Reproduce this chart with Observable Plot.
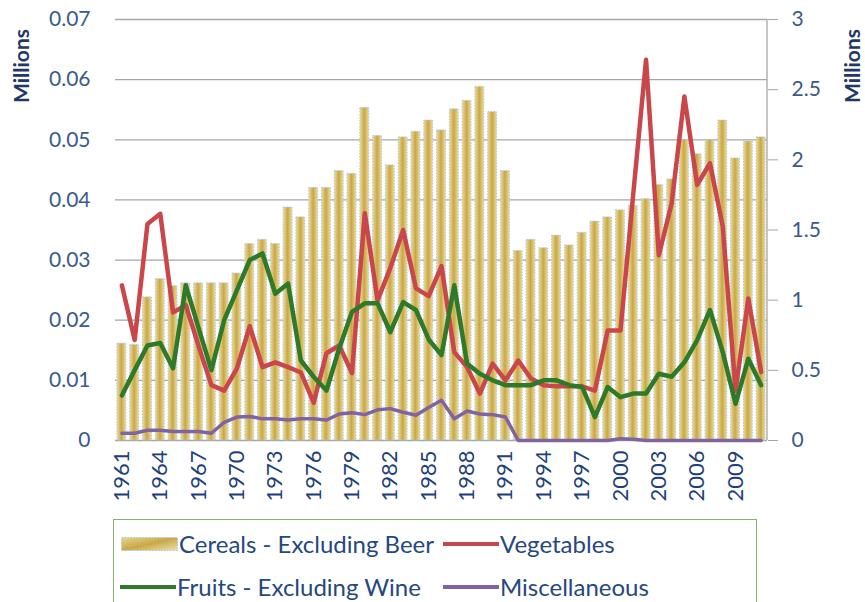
<!DOCTYPE html>
<html>
<head>
<meta charset="utf-8">
<script src="https://cdn.jsdelivr.net/npm/d3@7"></script>
<script src="https://cdn.jsdelivr.net/npm/@observablehq/plot@0.6"></script>
<style>
  html, body { margin: 0; padding: 0; background: #fff; overflow: hidden; }
  #page { position: relative; width: 865px; height: 602px; overflow: hidden; font-family: Lato, sans-serif; }
  #chart { position: absolute; left: 0; top: 0; }
  .unit { position: absolute; font-weight: bold; font-size: 21px; color: #1f3864; transform: translate(-50%, -50%) rotate(-90deg); white-space: nowrap; }
  #legend { position: absolute; left: 113px; top: 519px; width: 644px; height: 100px; border: 1.5px solid #8cb06a; box-sizing: border-box; }
  .lg-text { position: absolute; font-size: 24px; color: #26487e; transform: translateY(-50%); white-space: nowrap; line-height: 1; }
  .lg-sw { position: absolute; }
  .xax text { font-size: 22px; }
</style>
</head>
<body>
<div id="page">
  <div id="chart"></div>
  <div class="unit" style="left:20px; top:66px;">Millions</div>
  <div class="unit" style="left:851px; top:66px;">Millions</div>
  <div id="legend"></div>
</div>
<script>
const years = [1961,1962,1963,1964,1965,1966,1967,1968,1969,1970,
  1971,1972,1973,1974,1975,1976,1977,1978,1979,1980,
  1981,1982,1983,1984,1985,1986,1987,1988,1989,1990,
  1991,1992,1993,1994,1995,1996,1997,1998,1999,2000,
  2001,2002,2003,2004,2005,2006,2007,2008,2009,2010,2011];

// Cereals - Excluding Beer (right axis, millions)
const cereals = [0.69,0.68,1.02,1.15,1.10,1.12,1.12,1.12,1.12,1.19,
  1.40,1.43,1.40,1.66,1.59,1.80,1.80,1.92,1.90,2.37,
  2.17,1.96,2.16,2.20,2.28,2.21,2.36,2.42,2.52,2.34,
  1.92,1.35,1.43,1.37,1.46,1.39,1.48,1.56,1.59,1.64,
  1.67,1.72,1.82,1.86,2.14,2.04,2.14,2.28,2.01,2.13,2.16];

// Vegetables (left axis, millions)
const vegetables = [0.0258,0.0167,0.0360,0.0377,0.0213,0.0225,0.0157,0.0092,0.0083,0.0120,
  0.0190,0.0122,0.0130,0.0122,0.0113,0.0063,0.0145,0.0158,0.0112,0.0378,
  0.0233,0.0287,0.0350,0.0253,0.0240,0.0290,0.0147,0.0122,0.0078,0.0128,
  0.0100,0.0133,0.0103,0.0092,0.0090,0.0090,0.0090,0.0083,0.0183,0.0183,
  0.0410,0.0633,0.0308,0.0394,0.0572,0.0425,0.0461,0.0356,0.0083,0.0236,0.0114];

// Fruits - Excluding Wine (left axis, millions)
const fruits = [0.0075,0.0117,0.0158,0.0162,0.0120,0.0258,0.0187,0.0117,0.0200,0.0250,
  0.0300,0.0311,0.0244,0.0261,0.0133,0.0106,0.0083,0.0153,0.0214,0.0228,
  0.0228,0.0180,0.0230,0.0217,0.0168,0.0142,0.0258,0.0128,0.0111,0.0100,
  0.0092,0.0092,0.0092,0.0100,0.0100,0.0092,0.0089,0.0039,0.0089,0.0072,
  0.0078,0.0078,0.0111,0.0106,0.0130,0.0167,0.0217,0.0147,0.0061,0.0136,0.0092];

// Miscellaneous (left axis, millions)
const misc = [0.0012,0.0012,0.0017,0.0017,0.0015,0.0015,0.0015,0.0012,0.0030,0.0039,
  0.0040,0.0036,0.0036,0.0034,0.0036,0.0036,0.0034,0.0044,0.0046,0.0043,
  0.0051,0.0053,0.0047,0.0042,0.0055,0.0067,0.0036,0.0049,0.0044,0.0043,
  0.0039,0,0,0,0,0,0,0,0,0.0003,
  0.0002,0,0,0,0,0,0,0,0,0,0];

const leftTicks = [0,0.01,0.02,0.03,0.04,0.05,0.06,0.07];
const rightTicks = [0,0.5,1,1.5,2,2.5,3];
const xLabelYears = [1961,1964,1967,1970,1973,1976,1979,1982,1985,1988,1991,1994,1997,2000,2003,2006,2009];

const seriesNames = ["Cereals - Excluding Beer","Vegetables","Fruits - Excluding Wine","Miscellaneous"];
const seriesColors = ["#d4b45a","#c9474a","#2e7a29","#8064a2"];

const K = 0.07 / 3; // right-axis units to left-axis units

const rows = (vals) => years.map((y, i) => ({year: y, value: vals[i]}));

const svg = Plot.plot({
  width: 865,
  height: 512,
  marginLeft: 115,
  marginRight: 98,
  marginTop: 19,
  marginBottom: 72,
  style: {fontFamily: "Lato, sans-serif", fontSize: "21px", background: "white", overflow: "visible"},
  x: {type: "band", domain: years, paddingInner: 0.3, paddingOuter: 0.15, label: null},
  y: {domain: [0, 0.07], label: null},
  marks: [
    Plot.gridY(leftTicks, {stroke: "#a6a6a6", strokeOpacity: 1, strokeWidth: 1.3}),
    Plot.barY(rows(cereals), {x: "year", y: d => d.value * K, fill: "url(#goldGrad)",
      stroke: "#a8c8e8", strokeDasharray: "1.5,1.5", strokeWidth: 1}),
    Plot.line(rows(vegetables), {x: "year", y: "value", stroke: seriesColors[1], strokeWidth: 4.5}),
    Plot.line(rows(fruits), {x: "year", y: "value", stroke: seriesColors[2], strokeWidth: 4.5}),
    Plot.line(rows(misc), {x: "year", y: "value", stroke: seriesColors[3], strokeWidth: 3.5}),
    Plot.axisY(leftTicks, {anchor: "left", tickSize: 0, tickPadding: 25,
      tickFormat: v => v === 0 ? "0" : d3.format(".2f")(v), fill: "#3b5a8a", label: null}),
    Plot.axisY(rightTicks.map(v => v * K), {anchor: "right", tickSize: 10, tickPadding: 14,
      tickFormat: v => String(Math.round(v / K * 10) / 10), fill: "#3b5a8a", stroke: "#a6a6a6", label: null}),
    Plot.axisX(xLabelYears, {anchor: "bottom", tickRotate: -90, tickSize: 0, tickPadding: 10,
      tickFormat: d => String(d), fill: "#1e3f7a", label: null, className: "xax"})
  ]
});

// gradient definition for the cereal bars
const sel = d3.select(svg);
const defs = sel.insert("defs", ":first-child");
const g = defs.append("linearGradient").attr("id", "goldGrad").attr("x1", 0).attr("x2", 1).attr("y1", 0).attr("y2", 0);
g.append("stop").attr("offset", "0%").attr("stop-color", "#ecdc9c");
g.append("stop").attr("offset", "50%").attr("stop-color", "#c9a744");
g.append("stop").attr("offset", "100%").attr("stop-color", "#ecdc9c");

// right axis line
sel.append("line").attr("x1", 767).attr("x2", 767).attr("y1", 19).attr("y2", 440)
  .attr("stroke", "#a6a6a6").attr("stroke-width", 1.3);

document.getElementById("chart").appendChild(svg);

// legend
const legend = document.getElementById("legend");
const L = (html) => { legend.insertAdjacentHTML("beforeend", html); };
const ox = 113, oy = 519;
const items = [
  {kind: "bar", x: 120, y: 543, tx: 178},
  {kind: "line", x: 442, y: 543, tx: 499},
  {kind: "line", x: 119, y: 586, tx: 176},
  {kind: "line", x: 442, y: 586, tx: 499}
];
items.forEach((it, i) => {
  if (it.kind === "bar") {
    L(`<svg class="lg-sw" style="left:${it.x-ox}px; top:${it.y-oy-7}px" width="57" height="14">
      <defs><linearGradient id="lgGold" x1="0" x2="1" y1="0" y2="1">
      <stop offset="0%" stop-color="#e8d590"/><stop offset="50%" stop-color="#c9a84a"/><stop offset="100%" stop-color="#efe2a8"/>
      </linearGradient></defs>
      <rect x="0.5" y="0.5" width="56" height="13" fill="url(#lgGold)" stroke="#a8c8e8" stroke-dasharray="1.5,1.5"/></svg>`);
  } else {
    L(`<svg class="lg-sw" style="left:${it.x-ox}px; top:${it.y-oy-4}px" width="56" height="8">
      <line x1="0" x2="56" y1="4" y2="4" stroke="${seriesColors[i]}" stroke-width="4"/></svg>`);
  }
  L(`<div class="lg-text" style="left:${it.tx-ox}px; top:${it.y-oy}px">${seriesNames[i]}</div>`);
});
</script>
</body>
</html>
